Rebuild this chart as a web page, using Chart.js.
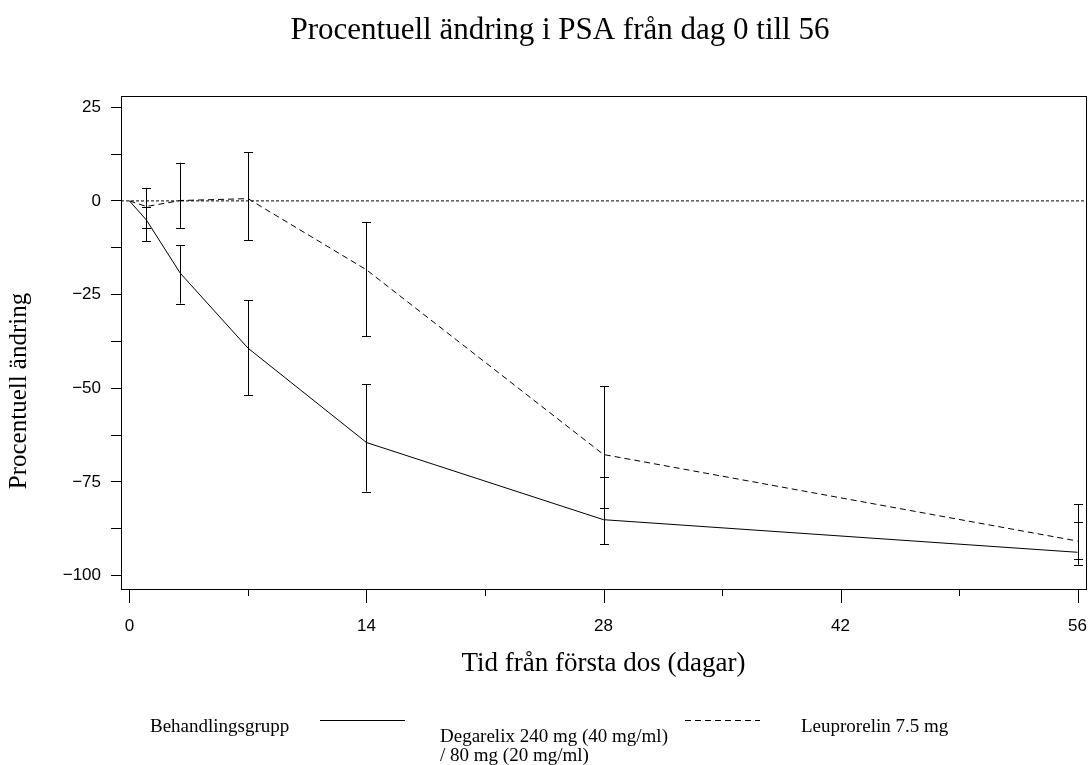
<!DOCTYPE html>
<html><head><meta charset="utf-8">
<script src="https://cdn.jsdelivr.net/npm/chart.js@4/dist/chart.umd.min.js"></script>
<style>html,body{margin:0;padding:0;background:#fff}#wrap{width:1089px;height:765px;position:relative}</style>
</head><body><div id="wrap"><canvas id="c" width="1089" height="765"></canvas></div>
<script>
const days = [0, 1, 3, 7, 14, 28, 56];
const degarelixMean  = [0, -5.1, -19.3, -39.3, -64.5, -85.1, -93.8];
const degarelixUpper = [null, -1.6, -11.8, -26.5, -49.0, -73.8, -85.7];
const degarelixLower = [null, -10.7, -27.4, -51.8, -77.6, -91.6, -97.1];
const leuprorelinMean  = [0, -1.5, 0.1, 0.6, -18.4, -67.7, -90.8];
const leuprorelinUpper = [null, 3.5, 10.2, 13.0, -5.7, -49.4, -80.9];
const leuprorelinLower = [null, -7.2, -7.2, -10.5, -36.1, -81.9, -95.7];
const xTicks = [0, 7, 14, 21, 28, 35, 42, 49, 56];
const xTickLabels = ['0', '', '14', '', '28', '', '42', '', '56'];
const yTicks = [25, 12.5, 0, -12.5, -25, -37.5, -50, -62.5, -75, -87.5, -100];
const yTickLabels = ['25', '', '0', '', '\u221225', '', '\u221250', '', '\u221275', '', '\u2212100'];
const titleText = 'Procentuell ändring i PSA från dag 0 till 56';
const xTitle = 'Tid från första dos (dagar)';
const yTitle = 'Procentuell ändring';
const legendTitle = 'Behandlingsgrupp';
const legendDeg = ['Degarelix 240 mg (40 mg/ml)', '/ 80 mg (20 mg/ml)'];
const legendLeu = 'Leuprorelin 7.5 mg';

const SERIF = '"Liberation Serif", "Times New Roman", serif';
const SANS = '"Liberation Sans", Arial, sans-serif';

const toPts = (ys) => days.map((d, i) => ({x: d, y: ys[i]}));

const decor = {
  id: 'decor',
  afterDatasetsDraw(chart) {
    const {ctx, chartArea: a, scales: {x, y}} = chart;
    ctx.save();
    ctx.strokeStyle = '#000';
    ctx.lineWidth = 1;
    const groups = [[degarelixUpper, degarelixLower], [leuprorelinUpper, leuprorelinLower]];
    groups.forEach(([up, lo]) => {
      days.forEach((d, i) => {
        if (up[i] == null) return;
        const px = Math.round(x.getPixelForValue(d)) + 0.5;
        const y1 = y.getPixelForValue(up[i]);
        const y2 = y.getPixelForValue(lo[i]);
        ctx.beginPath();
        ctx.moveTo(px, y1); ctx.lineTo(px, y2);
        ctx.moveTo(px - 4.5, Math.round(y1) + 0.5); ctx.lineTo(px + 4.5, Math.round(y1) + 0.5);
        ctx.moveTo(px - 4.5, Math.round(y2) + 0.5); ctx.lineTo(px + 4.5, Math.round(y2) + 0.5);
        ctx.stroke();
      });
    });
    ctx.strokeRect(Math.round(a.left) + 0.5, Math.round(a.top) + 0.5, Math.round(a.right - a.left), Math.round(a.bottom - a.top));
    xTicks.forEach((v, i) => {
      const px = Math.round(x.getPixelForValue(v)) + 0.5;
      ctx.beginPath();
      ctx.moveTo(px, a.bottom);
      ctx.lineTo(px, a.bottom + (xTickLabels[i] ? 14 : 7));
      ctx.stroke();
    });
    ctx.restore();
  },
  afterDraw(chart) {
    const {ctx} = chart;
    ctx.save();
    ctx.fillStyle = '#000';
    ctx.textBaseline = 'middle';
    ctx.font = '31px ' + SERIF;
    ctx.textAlign = 'center';
    ctx.fillText(titleText, 560, 31);
    ctx.save();
    ctx.translate(19, 391);
    ctx.rotate(-Math.PI / 2);
    ctx.font = '25px ' + SERIF;
    ctx.fillText(yTitle, 0, 0);
    ctx.restore();
    ctx.font = '19px ' + SERIF;
    ctx.textAlign = 'left';
    ctx.fillText(legendTitle, 150, 727);
    ctx.fillText(legendDeg[0], 440, 737);
    ctx.fillText(legendDeg[1], 440, 756);
    ctx.fillText(legendLeu, 801, 727);
    ctx.strokeStyle = '#000';
    ctx.lineWidth = 1;
    ctx.beginPath();
    ctx.moveTo(320, 720.5); ctx.lineTo(405, 720.5);
    ctx.stroke();
    ctx.setLineDash([6, 4]);
    ctx.beginPath();
    ctx.moveTo(685, 720.5); ctx.lineTo(760, 720.5);
    ctx.stroke();
    ctx.restore();
  }
};

new Chart(document.getElementById('c'), {
  type: 'line',
  data: {
    datasets: [
      {label: 'ref', data: [{x: -0.5, y: 0}, {x: 56.5, y: 0}], borderColor: '#000', borderWidth: 1, borderDash: [3, 2], pointRadius: 0},
      {label: legendDeg.join(' '), data: toPts(degarelixMean), borderColor: '#000', borderWidth: 1, pointRadius: 0, tension: 0},
      {label: legendLeu, data: toPts(leuprorelinMean), borderColor: '#000', borderWidth: 1, borderDash: [6, 4], pointRadius: 0, tension: 0}
    ]
  },
  options: {
    responsive: false,
    animation: false,
    devicePixelRatio: 1,
    layout: {padding: {top: 96, right: 3, bottom: 76, left: 0}},
    plugins: {legend: {display: false}, tooltip: {enabled: false}, title: {display: false}},
    scales: {
      x: {
        type: 'linear', min: -0.5, max: 56.5,
        afterBuildTicks: (s) => { s.ticks = xTicks.map(v => ({value: v})); },
        afterFit: (s) => { s.height = 100; s.paddingLeft = 0; s.paddingRight = 0; },
        grid: {display: false, drawTicks: false},
        border: {display: false},
        ticks: {callback: (v, i) => xTickLabels[i], color: '#000', font: {family: SANS, size: 17}, padding: 27, maxRotation: 0, autoSkip: false},
        title: {display: true, text: xTitle, color: '#000', font: {family: SERIF, size: 27}, padding: {top: 0, bottom: 9}}
      },
      y: {
        type: 'linear', min: -103.6, max: 28,
        afterBuildTicks: (s) => { s.ticks = yTicks.map(v => ({value: v})); },
        afterFit: (s) => { s.width = 121; s.paddingTop = 0; s.paddingBottom = 0; },
        grid: {display: true, drawOnChartArea: false, drawTicks: true, tickLength: 10, color: '#000', lineWidth: 1},
        border: {display: false},
        ticks: {callback: (v, i) => yTickLabels[i], color: '#000', font: {family: SANS, size: 17}, padding: 10, autoSkip: false}
      }
    }
  },
  plugins: [decor]
});
</script>
</body></html>
